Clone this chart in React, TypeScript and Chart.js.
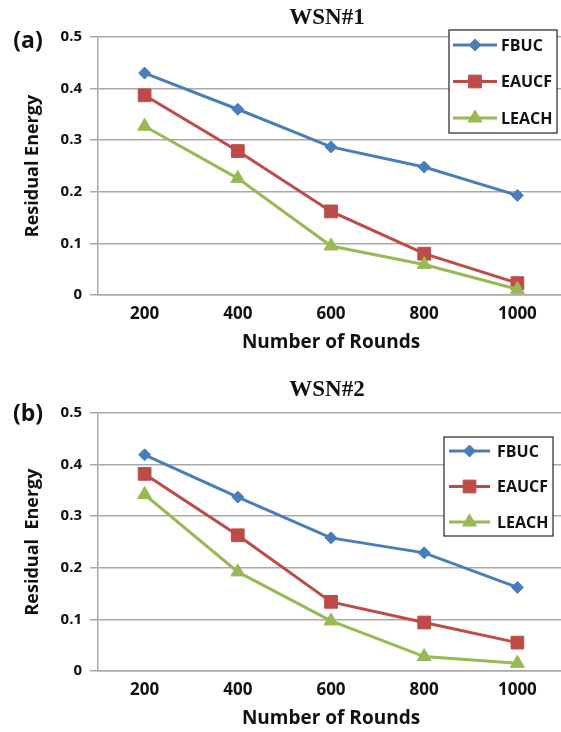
import React, { useEffect, useRef } from 'react';
import { Chart, registerables } from 'chart.js';
import { drawPoint } from 'chart.js/helpers';

Chart.register(...registerables);

// ---- data ----
const rounds = ['200', '400', '600', '800', '1000'];
const seriesNames = ['FBUC', 'EAUCF', 'LEACH'];
const wsn1FBUC = [0.43, 0.36, 0.287, 0.248, 0.193];
const wsn1EAUCF = [0.387, 0.279, 0.162, 0.08, 0.023];
const wsn1LEACH = [0.327, 0.226, 0.095, 0.059, 0.011];
const wsn2FBUC = [0.419, 0.337, 0.258, 0.229, 0.162];
const wsn2EAUCF = [0.382, 0.263, 0.134, 0.094, 0.055];
const wsn2LEACH = [0.342, 0.192, 0.097, 0.028, 0.015];
const yTicks = [0, 0.1, 0.2, 0.3, 0.4, 0.5];
const yTickLabels = ['0', '0.1', '0.2', '0.3', '0.4', '0.5'];

// ---- styles ----
const COLORS = ['#4A7EBB', '#BE4B48', '#98B954'];
const POINT_STYLES = ['rectRot', 'rect', 'triangle'];
const POINT_RADII = [6, 9, 8];
const GRID = '#a9a9a9';
const SANS = '"Open Sans", "Liberation Sans", sans-serif';
const SERIF = '"Liberation Serif", "DejaVu Serif", serif';
const CW = 566;
const CH = 370;

type LegendBox = { x: number; y: number; w: number; h: number; first: number; step: number; lx0: number; lx1: number; tx: number };

type PanelProps = {
  top: number;
  title: string;
  titleY: number;
  tag: string;
  tagY: number;
  yTitle: string;
  series: number[][];
  legend: LegendBox;
};

function Panel(p: PanelProps) {
  const ref = useRef<HTMLCanvasElement | null>(null);
  useEffect(() => {
    if (!ref.current) return;
    const annot = {
      id: 'annot',
      afterDraw(chart: any) {
        const ctx = chart.ctx as CanvasRenderingContext2D;
        ctx.save();
        ctx.fillStyle = '#111';
        ctx.textAlign = 'center';
        ctx.textBaseline = 'middle';
        ctx.font = `bold 23px ${SERIF}`;
        ctx.fillText(p.title, 327, p.titleY);
        ctx.font = `bold 23px ${SANS}`;
        ctx.fillText(p.tag, 28, p.tagY);
        const L = p.legend;
        ctx.fillStyle = '#fff';
        ctx.fillRect(L.x, L.y, L.w, L.h);
        ctx.strokeStyle = '#222';
        ctx.lineWidth = 1.2;
        ctx.strokeRect(L.x, L.y, L.w, L.h);
        chart.data.datasets.forEach((ds: any, i: number) => {
          const y = L.y + L.first + i * L.step;
          ctx.strokeStyle = ds.borderColor;
          ctx.lineWidth = 3;
          ctx.beginPath();
          ctx.moveTo(L.lx0, y);
          ctx.lineTo(L.lx1, y);
          ctx.stroke();
          ctx.fillStyle = ds.pointBackgroundColor;
          ctx.strokeStyle = ds.pointBorderColor;
          ctx.lineWidth = 1;
          drawPoint(ctx, { pointStyle: ds.pointStyle, radius: ds.pointRadius, borderWidth: 1, rotation: 0 } as any, (L.lx0 + L.lx1) / 2, y);
          ctx.fillStyle = '#111';
          ctx.font = `bold 16px ${SANS}`;
          ctx.textAlign = 'left';
          ctx.textBaseline = 'middle';
          ctx.fillText(ds.label, L.tx, y + 1);
        });
        ctx.restore();
      },
    };
    const chart = new Chart(ref.current, {
      type: 'line',
      data: {
        labels: rounds,
        datasets: seriesNames.map((name, i) => ({
          label: name,
          data: p.series[i],
          borderColor: COLORS[i],
          backgroundColor: COLORS[i],
          pointBackgroundColor: COLORS[i],
          pointBorderColor: COLORS[i],
          pointStyle: POINT_STYLES[i] as any,
          pointRadius: POINT_RADII[i],
          pointBorderWidth: 1,
          borderWidth: 3,
          tension: 0,
          fill: false,
          clip: false,
          order: 2 - i,
        })),
      },
      options: {
        responsive: false,
        animation: false,
        layout: { autoPadding: false, padding: { top: 37, right: 2, left: 0, bottom: 0 } },
        plugins: {
          legend: { display: false },
          title: { display: false },
          tooltip: { enabled: false },
        },
        scales: {
          x: {
            offset: true,
            grid: { display: false, drawTicks: false },
            border: { display: true, color: GRID, width: 1.5 },
            ticks: { padding: 9, color: '#111', font: { family: SANS, size: 17, weight: 'bold' } },
            title: {
              display: true,
              text: 'Number of Rounds',
              color: '#111',
              font: { family: SANS, size: 19, weight: 'bold' },
              padding: { top: 0, bottom: 16 },
            },
            afterFit: (s: any) => {
              s.height = 75;
              s.paddingLeft = 0;
              s.paddingRight = 0;
            },
          },
          y: {
            min: 0,
            max: 0.5,
            afterBuildTicks: (s: any) => {
              s.ticks = yTicks.map((v) => ({ value: v }));
            },
            grid: { color: GRID, lineWidth: 1.5, tickLength: 8 },
            border: { display: true, color: GRID, width: 1.5 },
            ticks: {
              padding: 8,
              color: '#111',
              font: { family: SANS, size: 15, weight: 'bold' },
              callback: (_v: any, i: number) => yTickLabels[i],
            },
            title: {
              display: true,
              text: p.yTitle,
              color: '#111',
              font: { family: SANS, size: 18, weight: 'bold' },
              padding: { top: 22, bottom: 0 },
            },
            afterFit: (s: any) => {
              s.width = 98;
            },
          },
        },
      } as any,
      plugins: [annot],
    });
    return () => chart.destroy();
  }, []);
  return (
    <canvas
      ref={ref}
      width={CW}
      height={CH}
      style={{ position: 'absolute', left: 0, top: p.top, width: CW, height: CH }}
    />
  );
}

export default function App() {
  return (
    <div style={{ position: 'absolute', left: 0, top: 0, width: 561, height: 732, overflow: 'hidden', background: '#fff' }}>
      <Panel
        top={0}
        title="WSN#1"
        titleY={18}
        tag="(a)"
        tagY={41}
        yTitle="Residual Energy"
        series={[wsn1FBUC, wsn1EAUCF, wsn1LEACH]}
        legend={{ x: 449, y: 30, w: 108, h: 103, first: 15, step: 36.5, lx0: 453, lx1: 497, tx: 501 }}
      />
      <Panel
        top={376}
        title="WSN#2"
        titleY={14}
        tag="(b)"
        tagY={38}
        yTitle="Residual  Energy"
        series={[wsn2FBUC, wsn2EAUCF, wsn2LEACH]}
        legend={{ x: 444, y: 61, w: 109, h: 99, first: 14, step: 35.5, lx0: 449, lx1: 490, tx: 497 }}
      />
    </div>
  );
}
